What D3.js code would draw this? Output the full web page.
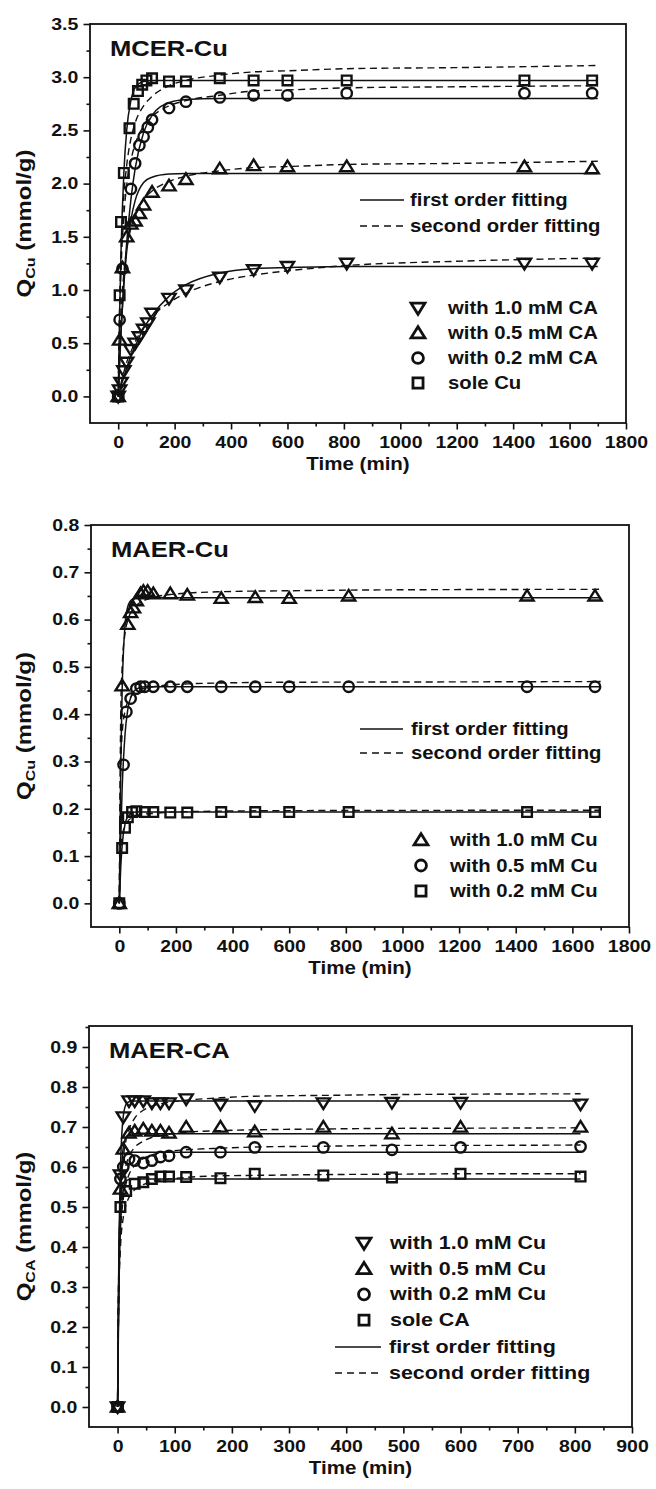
<!DOCTYPE html>
<html>
<head>
<meta charset="utf-8">
<title>Adsorption kinetics</title>
<script src="https://cdn.jsdelivr.net/npm/d3@7/dist/d3.min.js"></script>
<style>
  html, body { margin: 0; padding: 0; background: #fff; }
  svg { display: block; }
  text { font-family: "Liberation Sans", Arial, Helvetica, sans-serif; font-weight: bold; fill: #111; }
</style>
</head>
<body>
<svg id="chart" width="656" height="1489"></svg>
<script>
// ===================== MCER-Cu : Cu uptake, with / without citric acid =====================
const mcerXTicks = [0, 200, 400, 600, 800, 1000, 1200, 1400, 1600, 1800];
const mcerYTicks = [0.0, 0.5, 1.0, 1.5, 2.0, 2.5, 3.0, 3.5];
const mcerLabels = ["with 1.0 mM CA", "with 0.5 mM CA", "with 0.2 mM CA", "sole Cu"];

// measured points [time (min), Q (mmol/g)]
const mcerCA10 = [[0,0],[5,0.06],[10,0.13],[20,0.24],[30,0.32],[45,0.44],[60,0.5],[75,0.56],[90,0.63],[105,0.69],[120,0.78],[180,0.92],[240,1.0],[360,1.12],[480,1.19],[600,1.22],[810,1.25],[1440,1.25],[1680,1.25]];
const mcerCA05 = [[0,0],[5,0.53],[15,1.21],[30,1.5],[45,1.62],[60,1.65],[75,1.72],[90,1.8],[120,1.92],[180,1.98],[240,2.04],[360,2.14],[480,2.17],[600,2.16],[810,2.16],[1440,2.16],[1680,2.14]];
const mcerCA02 = [[0,0],[5,0.72],[15,1.2],[45,1.95],[60,2.19],[75,2.36],[90,2.44],[105,2.53],[120,2.6],[180,2.71],[240,2.77],[360,2.81],[480,2.83],[600,2.83],[810,2.85],[1440,2.85],[1680,2.85]];
const mcerSoleCu = [[0,0],[5,0.95],[10,1.64],[20,2.1],[40,2.52],[55,2.75],[70,2.87],[85,2.93],[100,2.97],[120,2.99],[180,2.96],[240,2.96],[360,2.99],[480,2.97],[600,2.97],[810,2.97],[1440,2.97],[1680,2.97]];

// fitted curves, sampled at mcerFitTimes
const mcerFitTimes   = [0, 5, 10, 20, 30, 45, 60, 90, 120, 180, 240, 360, 480, 600, 810, 1200, 1700];
const mcerCA10First  = [0, 0.05, 0.10, 0.18, 0.27, 0.38, 0.47, 0.64, 0.76, 0.94, 1.05, 1.16, 1.20, 1.21, 1.22, 1.22, 1.22];
const mcerCA10Second = [0, 0.065, 0.124, 0.228, 0.32, 0.42, 0.51, 0.65, 0.75, 0.88, 0.97, 1.08, 1.14, 1.18, 1.23, 1.27, 1.30];
const mcerCA05First  = [0, 0.34, 0.62, 1.05, 1.36, 1.66, 1.84, 2.01, 2.06, 2.09, 2.095, 2.095, 2.095, 2.095, 2.095, 2.095, 2.095];
const mcerCA05Second = [0, 0.47, 0.78, 1.16, 1.38, 1.58, 1.70, 1.85, 1.93, 2.02, 2.07, 2.12, 2.15, 2.16, 2.18, 2.19, 2.21];
const mcerCA02First  = [0, 0.32, 0.60, 1.07, 1.44, 1.85, 2.14, 2.48, 2.64, 2.76, 2.79, 2.80, 2.80, 2.80, 2.80, 2.80, 2.80];
const mcerCA02Second = [0, 0.75, 1.19, 1.70, 1.98, 2.22, 2.37, 2.54, 2.63, 2.73, 2.78, 2.83, 2.87, 2.88, 2.90, 2.91, 2.92];
const mcerSoleFirst  = [0, 0.78, 1.36, 2.10, 2.50, 2.78, 2.90, 2.96, 2.97, 2.97, 2.97, 2.97, 2.97, 2.97, 2.97, 2.97, 2.97];
const mcerSoleSecond = [0, 0.86, 1.35, 1.89, 2.17, 2.42, 2.57, 2.73, 2.82, 2.92, 2.97, 3.02, 3.05, 3.06, 3.08, 3.09, 3.11];

// ===================== MAER-Cu : Cu uptake at three Cu levels =====================
const maerXTicks = [0, 200, 400, 600, 800, 1000, 1200, 1400, 1600, 1800];
const maerYTicks = [0.0, 0.1, 0.2, 0.3, 0.4, 0.5, 0.6, 0.7, 0.8];
const maerLabels = ["with 1.0 mM Cu", "with 0.5 mM Cu", "with 0.2 mM Cu"];

const maerCu10 = [[0,0],[10,0.46],[30,0.59],[40,0.615],[50,0.625],[60,0.64],[75,0.655],[85,0.66],[100,0.66],[120,0.655],[180,0.655],[240,0.652],[360,0.645],[480,0.647],[600,0.645],[810,0.65],[1440,0.65],[1680,0.65]];
const maerCu05 = [[0,0],[15,0.293],[25,0.405],[40,0.433],[60,0.454],[75,0.458],[90,0.458],[120,0.458],[180,0.458],[240,0.458],[360,0.458],[480,0.458],[600,0.458],[810,0.458],[1440,0.458],[1680,0.458]];
const maerCu02 = [[0,0],[10,0.117],[20,0.16],[30,0.182],[45,0.193],[60,0.195],[90,0.193],[120,0.193],[180,0.192],[240,0.192],[360,0.193],[480,0.193],[600,0.193],[810,0.193],[1440,0.193],[1680,0.193]];

const maerFitTimes   = [0, 5, 10, 20, 30, 45, 60, 90, 120, 180, 240, 360, 600, 1000, 1700];
const maerCu10First  = [0, 0.29, 0.45, 0.587, 0.628, 0.643, 0.646, 0.646, 0.646, 0.646, 0.646, 0.646, 0.646, 0.646, 0.646];
const maerCu10Second = [0, 0.40, 0.50, 0.57, 0.599, 0.619, 0.63, 0.641, 0.647, 0.653, 0.656, 0.659, 0.661, 0.663, 0.664];
const maerCu05First  = [0, 0.143, 0.242, 0.356, 0.41, 0.442, 0.453, 0.458, 0.458, 0.458, 0.458, 0.458, 0.458, 0.458, 0.458];
const maerCu05Second = [0, 0.288, 0.358, 0.406, 0.426, 0.44, 0.447, 0.455, 0.458, 0.462, 0.464, 0.466, 0.4675, 0.468, 0.469];
const maerCu02First  = [0, 0.076, 0.122, 0.167, 0.183, 0.191, 0.193, 0.193, 0.193, 0.193, 0.193, 0.193, 0.193, 0.193, 0.193];
const maerCu02Second = [0, 0.11, 0.141, 0.164, 0.174, 0.181, 0.185, 0.189, 0.190, 0.193, 0.194, 0.195, 0.196, 0.1965, 0.197];

// ===================== MAER-CA : citric acid uptake =====================
const caXTicks = [0, 100, 200, 300, 400, 500, 600, 700, 800, 900];
const caYTicks = [0.0, 0.1, 0.2, 0.3, 0.4, 0.5, 0.6, 0.7, 0.8, 0.9];
const caLabels = ["with 1.0 mM Cu", "with 0.5 mM Cu", "with 0.2 mM Cu", "sole CA"];

const caCu10 = [[0,0],[5,0.58],[10,0.725],[20,0.765],[30,0.765],[45,0.765],[60,0.76],[75,0.76],[90,0.76],[120,0.77],[180,0.757],[240,0.753],[360,0.76],[480,0.761],[600,0.761],[810,0.757]];
const caCu05 = [[0,0],[5,0.545],[10,0.645],[20,0.685],[30,0.69],[45,0.695],[60,0.69],[75,0.69],[90,0.685],[120,0.70],[180,0.70],[240,0.688],[360,0.70],[480,0.683],[600,0.70],[810,0.70]];
const caCu02 = [[0,0],[5,0.57],[10,0.6],[20,0.62],[30,0.616],[45,0.61],[60,0.616],[75,0.625],[90,0.628],[120,0.637],[180,0.637],[240,0.649],[360,0.649],[480,0.643],[600,0.649],[810,0.651]];
const caSole = [[0,0],[5,0.50],[15,0.54],[30,0.558],[45,0.562],[60,0.57],[75,0.576],[90,0.576],[120,0.575],[180,0.572],[240,0.583],[360,0.579],[480,0.574],[600,0.583],[810,0.576]];

const caFitTimes    = [0, 2, 5, 10, 15, 20, 30, 45, 60, 90, 120, 180, 240, 360, 480, 600, 810];
const caCu10First   = [0, 0.345, 0.594, 0.727, 0.757, 0.763, 0.765, 0.765, 0.765, 0.765, 0.765, 0.765, 0.765, 0.765, 0.765, 0.765, 0.765];
const caCu10Second  = [0, 0.34, 0.515, 0.622, 0.669, 0.694, 0.722, 0.742, 0.752, 0.762, 0.767, 0.773, 0.777, 0.779, 0.781, 0.782, 0.783];
const caCu05First   = [0, 0.308, 0.531, 0.649, 0.675, 0.681, 0.683, 0.683, 0.683, 0.683, 0.683, 0.683, 0.683, 0.683, 0.683, 0.683, 0.683];
const caCu05Second  = [0, 0.323, 0.477, 0.567, 0.606, 0.627, 0.649, 0.665, 0.674, 0.682, 0.687, 0.691, 0.693, 0.695, 0.6966, 0.697, 0.698];
const caCu02First   = [0, 0.32, 0.526, 0.618, 0.634, 0.637, 0.637, 0.637, 0.637, 0.637, 0.637, 0.637, 0.637, 0.637, 0.637, 0.637, 0.637];
const caCu02Second  = [0, 0.284, 0.431, 0.52, 0.559, 0.581, 0.604, 0.621, 0.63, 0.639, 0.643, 0.647, 0.65, 0.652, 0.654, 0.654, 0.655];
const caSoleFirst   = [0, 0.257, 0.443, 0.542, 0.564, 0.569, 0.570, 0.570, 0.570, 0.570, 0.570, 0.570, 0.570, 0.570, 0.570, 0.570, 0.570];
const caSoleSecond  = [0, 0.27, 0.398, 0.474, 0.506, 0.524, 0.543, 0.556, 0.564, 0.57, 0.574, 0.578, 0.579, 0.581, 0.582, 0.583, 0.583];

const fitLabels = ["first order fitting", "second order fitting"];

// ===================== panel definitions =====================
const zip = (ts, qs) => ts.map((t, i) => [t, qs[i]]);

const panels = [
  {
    title: "MCER-Cu", ySub: "Cu",
    top: 24, bottom: 423, left: 90, right: 626,
    xDomain: [-100, 1800], xTicks: mcerXTicks, xMinorStep: 100,
    yDomain: [-0.25, 3.5], yTicks: mcerYTicks, yMinorStep: 0.25,
    series: [
      { shape: "down",   pts: mcerCA10,   first: zip(mcerFitTimes, mcerCA10First), second: zip(mcerFitTimes, mcerCA10Second) },
      { shape: "up",     pts: mcerCA05,   first: zip(mcerFitTimes, mcerCA05First), second: zip(mcerFitTimes, mcerCA05Second) },
      { shape: "circle", pts: mcerCA02,   first: zip(mcerFitTimes, mcerCA02First), second: zip(mcerFitTimes, mcerCA02Second) },
      { shape: "square", pts: mcerSoleCu, first: zip(mcerFitTimes, mcerSoleFirst), second: zip(mcerFitTimes, mcerSoleSecond) }
    ],
    legendFont: 17.5,
    markerLegend: { x: 418, y0: 308, dy: 25, tx: 448, labels: mcerLabels, shapes: ["down", "up", "circle", "square"] },
    lineLegend:   { x0: 360, x1: 404, y0: 200, dy: 26, tx: 410 }
  },
  {
    title: "MAER-Cu", ySub: "Cu",
    top: 525, bottom: 927, left: 91, right: 629,
    xDomain: [-100, 1800], xTicks: maerXTicks, xMinorStep: 100,
    yDomain: [-0.05, 0.8], yTicks: maerYTicks, yMinorStep: 0.05,
    series: [
      { shape: "up",     pts: maerCu10, first: zip(maerFitTimes, maerCu10First), second: zip(maerFitTimes, maerCu10Second) },
      { shape: "circle", pts: maerCu05, first: zip(maerFitTimes, maerCu05First), second: zip(maerFitTimes, maerCu05Second) },
      { shape: "square", pts: maerCu02, first: zip(maerFitTimes, maerCu02First), second: zip(maerFitTimes, maerCu02Second) }
    ],
    legendFont: 17.5,
    markerLegend: { x: 421, y0: 840, dy: 25.5, tx: 450, labels: maerLabels, shapes: ["up", "circle", "square"] },
    lineLegend:   { x0: 360, x1: 403, y0: 729, dy: 24, tx: 411 }
  },
  {
    title: "MAER-CA", ySub: "CA",
    top: 1026, bottom: 1427, left: 89, right: 632,
    xDomain: [-50, 900], xTicks: caXTicks, xMinorStep: 50,
    yDomain: [-0.05, 0.9525], yTicks: caYTicks, yMinorStep: 0.05,
    series: [
      { shape: "down",   pts: caCu10, first: zip(caFitTimes, caCu10First), second: zip(caFitTimes, caCu10Second) },
      { shape: "up",     pts: caCu05, first: zip(caFitTimes, caCu05First), second: zip(caFitTimes, caCu05Second) },
      { shape: "circle", pts: caCu02, first: zip(caFitTimes, caCu02First), second: zip(caFitTimes, caCu02Second) },
      { shape: "square", pts: caSole, first: zip(caFitTimes, caSoleFirst), second: zip(caFitTimes, caSoleSecond) }
    ],
    legendFont: 18.5,
    markerLegend: { x: 364, y0: 1243, dy: 25.7, tx: 390, labels: caLabels, shapes: ["down", "up", "circle", "square"] },
    lineLegend:   { x0: 335, x1: 381, y0: 1347, dy: 26, tx: 389 }
  }
];

// ===================== drawing =====================
const svg = d3.select("#chart");
const INK = "#111";
const TICK_SX = 1.18;   // wide bold lettering

// open marker outline centred at (cx, cy)
function markerPath(shape, cx, cy, s) {
  const p = d3.path();
  if (shape === "square") {
    p.rect(cx - 4.8 * s, cy - 4.8 * s, 9.6 * s, 9.6 * s);
  } else if (shape === "circle") {
    p.arc(cx, cy, 5.2 * s, 0, 2 * Math.PI); p.closePath();
  } else if (shape === "up") {
    p.moveTo(cx - 6.6 * s, cy + 4.6 * s); p.lineTo(cx + 6.6 * s, cy + 4.6 * s); p.lineTo(cx, cy - 6 * s); p.closePath();
  } else {
    p.moveTo(cx - 6.6 * s, cy - 4.6 * s); p.lineTo(cx + 6.6 * s, cy - 4.6 * s); p.lineTo(cx, cy + 6 * s); p.closePath();
  }
  return p.toString();
}

function wideText(g, x, y, str, size, sx, anchor) {
  return g.append("text")
    .attr("transform", `translate(${x},${y}) scale(${sx},1)`)
    .attr("text-anchor", anchor || "start")
    .style("font-size", size + "px")
    .text(str);
}

function minorValues(domain, step, majors) {
  const out = [];
  const n0 = Math.ceil(domain[0] / step - 1e-9), n1 = Math.floor(domain[1] / step + 1e-9);
  for (let i = n0; i <= n1; i++) {
    const v = +(i * step).toFixed(4);
    if (v <= domain[0] + 1e-6 || v >= domain[1] - 1e-6) continue;
    if (majors.some(m => Math.abs(m - v) < 1e-6)) continue;
    out.push(v);
  }
  return out;
}

function styleAxis(sel) {
  sel.attr("font-family", null).attr("font-size", null);
  sel.select(".domain").remove();
  sel.selectAll(".tick line").attr("stroke", INK).attr("stroke-width", 1.6);
  sel.selectAll(".tick text").attr("fill", INK).style("font-size", "16.5px");
}

panels.forEach(p => {
  const x = d3.scaleLinear().domain(p.xDomain).range([p.left, p.right]);
  const y = d3.scaleLinear().domain(p.yDomain).range([p.bottom, p.top]);
  const g = svg.append("g");

  // bottom axis: minor + major ticks pointing outward
  g.append("g").attr("transform", `translate(0,${p.bottom})`)
    .call(d3.axisBottom(x).tickValues(minorValues(p.xDomain, p.xMinorStep, p.xTicks)).tickSize(3.5).tickFormat(""))
    .call(styleAxis);
  g.append("g").attr("transform", `translate(0,${p.bottom})`)
    .call(d3.axisBottom(x).tickValues(p.xTicks).tickSize(6.5).tickPadding(6.5).tickFormat(d3.format("d")))
    .call(styleAxis)
    .call(a => a.selectAll(".tick text").attr("transform", `scale(${TICK_SX},1)`));

  // left axis
  g.append("g").attr("transform", `translate(${p.left},0)`)
    .call(d3.axisLeft(y).tickValues(minorValues(p.yDomain, p.yMinorStep, p.yTicks)).tickSize(3.5).tickFormat(""))
    .call(styleAxis);
  g.append("g").attr("transform", `translate(${p.left},0)`)
    .call(d3.axisLeft(y).tickValues(p.yTicks).tickSize(6.5).tickPadding(3.5).tickFormat(d3.format(".1f")))
    .call(styleAxis)
    .call(a => a.selectAll(".tick text").attr("transform", `scale(${TICK_SX},1)`));

  // plot frame
  g.append("rect")
    .attr("x", p.left).attr("y", p.top)
    .attr("width", p.right - p.left).attr("height", p.bottom - p.top)
    .attr("fill", "none").attr("stroke", INK).attr("stroke-width", 1.8);

  // fitted curves
  const line = d3.line().x(d => x(d[0])).y(d => y(d[1])).curve(d3.curveMonotoneX);
  p.series.forEach(s => {
    g.append("path").attr("d", line(s.first))
      .attr("fill", "none").attr("stroke", INK).attr("stroke-width", 1.5);
    g.append("path").attr("d", line(s.second))
      .attr("fill", "none").attr("stroke", INK).attr("stroke-width", 1.4)
      .attr("stroke-dasharray", "7,4.5");
  });

  // measured points
  p.series.forEach(s => {
    g.append("g").selectAll("path").data(s.pts).join("path")
      .attr("d", d => markerPath(s.shape, x(d[0]), y(d[1]), 1))
      .attr("fill", "none").attr("stroke", INK).attr("stroke-width", 2.4);
  });

  // panel title
  wideText(g, p.left + 20, p.top + 32, p.title, 21.5, 1.19);

  // axis titles
  wideText(g, (p.left + p.right) / 2, p.bottom + 47, "Time (min)", 18.5, 1.11, "middle");
  const yt = g.append("text")
    .attr("transform", `translate(31,${(p.top + p.bottom) / 2}) rotate(-90) scale(1.23,1)`)
    .attr("text-anchor", "middle")
    .style("font-size", "19.5px");
  yt.append("tspan").text("Q");
  yt.append("tspan").text(p.ySub).style("font-size", "13px").attr("dy", 4);
  yt.append("tspan").text(" (mmol/g)").attr("dy", -4);

  // symbol legend
  const ml = p.markerLegend;
  ml.labels.forEach((lab, i) => {
    const cy = ml.y0 + i * ml.dy;
    g.append("path").attr("d", markerPath(ml.shapes[i], ml.x, cy, 1.05))
      .attr("fill", "none").attr("stroke", INK).attr("stroke-width", 2.8);
    wideText(g, ml.tx, cy + 6, lab, p.legendFont, 1.16);
  });

  // line-style legend
  const ll = p.lineLegend;
  fitLabels.forEach((lab, i) => {
    const cy = ll.y0 + i * ll.dy;
    g.append("line").attr("x1", ll.x0).attr("x2", ll.x1).attr("y1", cy).attr("y2", cy)
      .attr("stroke", INK).attr("stroke-width", 1.5)
      .attr("stroke-dasharray", i === 0 ? null : "7,5");
    wideText(g, ll.tx, cy + 6, lab, p.legendFont, 1.16);
  });
});
</script>
</body>
</html>
